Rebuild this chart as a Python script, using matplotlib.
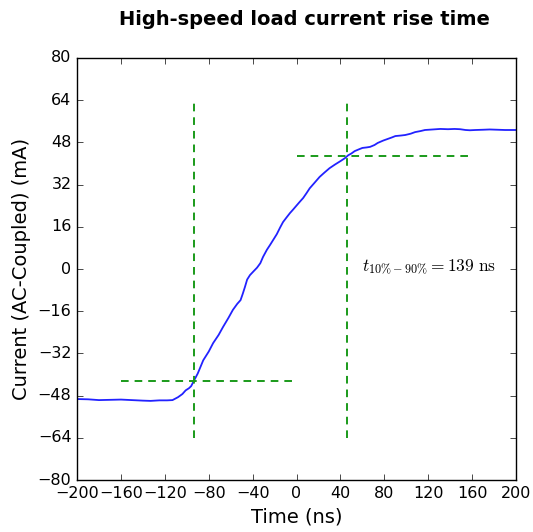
import matplotlib
matplotlib.use("Agg")
import matplotlib.pyplot as plt
import numpy as np

plt.style.use("classic")

# Measured load current step (AC-coupled)
time_ns = [-200, -190, -180, -170, -160, -150, -140, -133, -125, -118, -113,
           -108, -104, -101, -98, -96, -93.4, -90, -85, -80, -76, -71, -67,
           -62, -58, -54, -51, -49, -47, -45, -42.4, -39, -36, -33, -30.5,
           -27, -24, -21, -18, -15, -12.3, -9, -6, -3, 0.5, 3, 6, 9, 12,
           16, 21, 25, 30, 35, 40, 44, 47, 50, 53, 57, 60, 64, 67, 71, 74,
           79, 83, 87, 90, 95, 99, 104, 108, 113, 117, 124, 131, 138, 144,
           149, 154, 158, 163, 170, 176, 183, 190, 195, 200]
current_ma = [-49.3, -49.4, -49.7, -49.6, -49.5, -49.7, -49.9, -50.0, -49.8,
              -49.8, -49.7, -48.6, -47.4, -46.0, -45.2, -44.4, -42.3, -39.6,
              -34.6, -31.3, -28.1, -25.0, -22.0, -18.5, -15.5, -13.2, -11.8,
              -9.4, -6.8, -4.0, -2.3, -0.8, 0.5, 2.2, 4.6, 7.3, 9.2, 11.2,
              13.2, 15.7, 17.8, 19.6, 21.2, 22.6, 24.3, 25.5, 26.9, 28.7,
              30.6, 32.5, 34.9, 36.4, 38.2, 39.6, 40.9, 42.0, 43.1, 43.8,
              44.7, 45.4, 45.9, 46.1, 46.3, 47.0, 47.8, 48.7, 49.3, 49.9,
              50.4, 50.6, 50.8, 51.3, 51.9, 52.3, 52.7, 52.9, 53.1, 53.0,
              53.1, 53.0, 52.7, 52.6, 52.7, 52.8, 52.9, 52.8, 52.7, 52.7,
              52.7]

# Rise-time markers
t10, t90 = -93.0, 46.0
i10, i90 = -42.3, 42.8
rise_time = 139

fig = plt.figure(figsize=(5.33, 5.32), dpi=100, facecolor="white")
ax = fig.add_axes([0.1445, 0.0977, 0.8237, 0.7933])

ax.plot(time_ns, current_ma, color="#2222ff", lw=1.3)

dash = dict(colors="#1a9a1a", linewidths=1.4, linestyles=(0, (5.5, 4.3)))
ax.vlines([t10, t90], -64, 64, **dash)
ax.hlines(i10, -160, 0, **dash)
ax.hlines(i90, 0, 160, **dash)

label = r"$t_{10\%-90\%}=" + str(rise_time) + r"\ \mathrm{ns}$"
ax.text(60, 0.5, label, fontsize=12.5, va="center", ha="left")

ax.set_xlim(-200, 200)
ax.set_ylim(-80, 80)
ax.set_xticks(np.arange(-200, 201, 40))
ax.set_yticks(np.arange(-80, 81, 16))
ax.tick_params(labelsize=11.5)

ax.set_xlabel("Time (ns)", fontsize=14)
ax.set_ylabel("Current (AC-Coupled) (mA)", fontsize=14)
ax.set_title("High-speed load current rise time", fontsize=14,
             fontweight="bold", x=0.518, y=1.062)

fig.savefig("out.png", dpi=100, facecolor="white")
